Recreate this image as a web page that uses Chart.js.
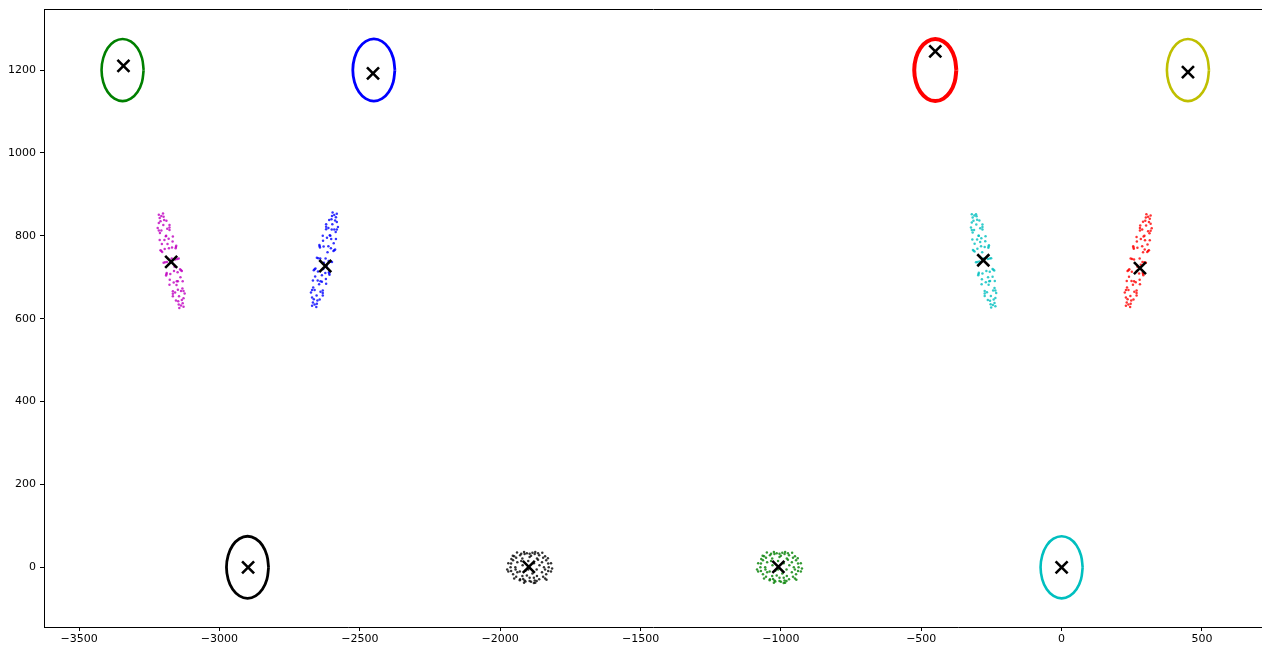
<!DOCTYPE html>
<html>
<head>
<meta charset="utf-8">
<script src="https://cdn.jsdelivr.net/npm/chart.js@4/dist/chart.umd.min.js"></script>
<style>
  html, body { margin: 0; padding: 0; background: #fff; overflow: hidden; }
  #wrap { width: 1262px; height: 648px; overflow: hidden; position: relative; }
  /* the plotting frame runs past the right edge of the view */
  #c { position: absolute; left: 0; top: -2px; }
</style>
</head>
<body>
<div id="wrap"><canvas id="c" width="1274" height="650"></canvas></div>
<script>
// Axis tick values
const xTicks = [-3500, -3000, -2500, -2000, -1500, -1000, -500, 0, 500];
const yTicks = [0, 200, 400, 600, 800, 1000, 1200];

// Ring-shaped clusters (outline points, closed)
const ringGreen = [[-3270,1200],[-3276,1229],[-3292,1253],[-3316,1269],[-3345,1275],[-3374,1269],[-3398,1253],[-3414,1229],[-3420,1200],[-3414,1171],[-3398,1147],[-3374,1131],[-3345,1125],[-3316,1131],[-3292,1147],[-3276,1171],[-3270,1200]];
const ringBlue = [[-2375,1200],[-2381,1229],[-2397,1253],[-2421,1269],[-2450,1275],[-2479,1269],[-2503,1253],[-2519,1229],[-2525,1200],[-2519,1171],[-2503,1147],[-2479,1131],[-2450,1125],[-2421,1131],[-2397,1147],[-2381,1171],[-2375,1200]];
const ringRed = [[-375,1200],[-381,1229],[-397,1253],[-421,1269],[-450,1275],[-479,1269],[-503,1253],[-519,1229],[-525,1200],[-519,1171],[-503,1147],[-479,1131],[-450,1125],[-421,1131],[-397,1147],[-381,1171],[-375,1200]];
const ringYellow = [[525,1200],[519,1229],[503,1253],[479,1269],[450,1275],[421,1269],[397,1253],[381,1229],[375,1200],[381,1171],[397,1147],[421,1131],[450,1125],[479,1131],[503,1147],[519,1171],[525,1200]];
const ringBlack = [[-2825,0],[-2831,29],[-2847,53],[-2871,69],[-2900,75],[-2929,69],[-2953,53],[-2969,29],[-2975,0],[-2969,-29],[-2953,-53],[-2929,-69],[-2900,-75],[-2871,-69],[-2847,-53],[-2831,-29],[-2825,0]];
const ringCyan = [[75,0],[69,29],[53,53],[29,69],[0,75],[-29,69],[-53,53],[-69,29],[-75,0],[-69,-29],[-53,-53],[-29,-69],[0,-75],[29,-69],[53,-53],[69,-29],[75,0]];

// Scattered clusters
const bandMagenta = [
  [-3207,848],[-3199,846],[-3189,836],[-3178,820],[-3166,798],[-3155,773],[-3145,745],[-3137,717],
  [-3131,690],[-3128,667],[-3128,649],[-3131,637],[-3137,632],[-3145,634],[-3155,644],[-3166,660],
  [-3178,682],[-3189,707],[-3199,735],[-3207,763],[-3213,790],[-3216,813],[-3216,831],[-3213,843],
  [-3200,826],[-3201,854],[-3186,817],[-3178,826],[-3167,786],[-3154,776],[-3150,744],[-3134,715],
  [-3139,700],[-3124,661],[-3137,667],[-3128,629],[-3144,654],[-3143,626],[-3158,663],[-3166,654],
  [-3177,694],[-3190,704],[-3194,736],[-3210,765],[-3205,780],[-3220,819],[-3207,813],[-3216,851],
  [-3190,800],[-3180,770],[-3170,745],[-3162,715],[-3152,690],[-3185,780],[-3160,725],[-3148,670],
  [-3191,799],[-3181,793],[-3169,772],[-3157,743],[-3149,712],[-3148,690],[-3153,681],[-3163,687],
  [-3175,708],[-3187,737],[-3195,768],[-3196,790],[-3197,838],[-3178,814],[-3156,770],[-3140,719],
  [-3132,673],[-3134,645],[-3147,642],[-3166,666],[-3188,710],[-3204,761],[-3212,807],[-3210,835]
];
const bandBlue = [
  [-2591,850],[-2585,845],[-2582,833],[-2582,815],[-2585,792],[-2591,765],[-2599,737],[-2609,709],
  [-2620,684],[-2632,662],[-2643,646],[-2653,636],[-2661,634],[-2667,639],[-2670,651],[-2670,669],
  [-2667,692],[-2661,719],[-2653,747],[-2643,775],[-2632,800],[-2620,822],[-2609,838],[-2599,848],
  [-2598,828],[-2582,853],[-2591,815],[-2578,821],[-2593,782],[-2588,767],[-2604,738],[-2608,706],
  [-2621,696],[-2632,656],[-2640,665],[-2655,628],[-2654,656],[-2670,631],[-2661,669],[-2674,663],
  [-2659,702],[-2664,717],[-2648,746],[-2644,778],[-2631,788],[-2620,828],[-2612,819],[-2597,856],
  [-2605,800],[-2612,775],[-2622,745],[-2630,720],[-2640,690],[-2615,760],[-2635,705],[-2600,815],
  [-2628,735],[-2618,728],
  [-2607,801],[-2602,792],[-2603,770],[-2611,739],[-2623,710],[-2635,689],[-2645,683],[-2650,692],
  [-2649,714],[-2641,745],[-2629,774],[-2617,795],[-2588,837],[-2586,809],[-2594,763],[-2610,712],
  [-2632,668],[-2651,644],[-2664,647],[-2666,675],[-2658,721],[-2642,772],[-2620,816],[-2601,840]
];
const bandCyan = [
  [-311,849],[-303,847],[-293,837],[-282,821],[-271,799],[-260,774],[-251,746],[-243,718],
  [-238,691],[-236,668],[-236,650],[-239,638],[-245,633],[-253,635],[-263,645],[-274,661],
  [-285,683],[-296,708],[-305,736],[-313,764],[-318,791],[-320,814],[-320,832],[-317,844],
  [-304,827],[-305,852],[-290,818],[-282,827],[-272,787],[-259,777],[-256,745],[-240,716],
  [-246,701],[-233,662],[-244,668],[-236,630],[-252,655],[-251,627],[-266,664],[-274,655],
  [-284,695],[-297,705],[-300,737],[-316,766],[-310,781],[-323,820],[-312,814],[-320,852],
  [-295,800],[-287,775],[-278,745],[-268,715],[-258,690],[-290,785],[-262,700],[-283,760],
  [-296,800],[-286,794],[-274,773],[-263,744],[-256,713],[-255,691],[-260,682],[-270,688],
  [-282,709],[-293,738],[-300,769],[-301,791],[-301,839],[-282,815],[-261,771],[-246,720],
  [-239,674],[-242,646],[-255,643],[-274,667],[-295,711],[-310,762],[-317,808],[-314,836]
];
const bandRed = [
  [308,846],[314,841],[317,829],[317,812],[314,789],[308,763],[300,735],[290,708],
  [279,683],[267,662],[256,646],[246,636],[238,634],[232,639],[229,651],[229,669],
  [232,691],[238,717],[246,745],[256,772],[267,797],[279,819],[290,834],[300,844],
  [301,825],[317,849],[308,811],[321,818],[306,779],[311,765],[295,736],[291,705],
  [278,694],[267,656],[259,665],[244,628],[245,655],[229,631],[238,669],[225,663],
  [240,701],[235,715],[251,744],[255,775],[268,786],[280,825],[287,815],[302,852],
  [295,800],[287,775],[278,745],[268,715],[258,690],[282,730],[270,725],[290,760],
  [292,798],[297,789],[296,767],[288,737],[276,709],[264,688],[254,682],[249,691],
  [250,713],[258,743],[270,771],[282,792],[311,833],[313,806],[305,761],[289,711],
  [267,668],[248,644],[235,647],[233,675],[241,719],[257,769],[279,813],[298,836]
];
const blobBlack = [
  [-1827,0],[-1829,9],[-1836,17],[-1847,23],[-1861,29],[-1877,32],[-1895,33],[-1913,32],
  [-1929,29],[-1943,23],[-1954,17],[-1961,9],[-1963,0],[-1961,-9],[-1954,-17],[-1943,-23],
  [-1929,-29],[-1913,-32],[-1895,-33],[-1877,-32],[-1861,-29],[-1847,-23],[-1836,-17],[-1829,-9],
  [-1844,0],[-1819,10],[-1851,12],[-1840,27],[-1869,21],[-1875,37],[-1895,25],[-1915,37],
  [-1921,21],[-1950,27],[-1939,12],[-1971,10],[-1946,0],[-1971,-10],[-1939,-12],[-1950,-27],
  [-1921,-21],[-1915,-37],[-1895,-25],[-1875,-37],[-1869,-21],[-1840,-27],[-1851,-12],[-1819,-10],
  [-1885,35],[-1905,34],[-1925,33],[-1865,34],[-1890,-35],[-1910,-34],[-1870,-33],[-1930,-31],
  [-1880,10],[-1910,-8],[-1900,15],[-1885,-15],[-1920,5],[-1870,-5],
  [-1960,20],[-1975,-5],[-1830,22],[-1815,-3],[-1860,5],[-1930,-10],[-1905,-20],[-1865,18],
  [-1945,-5],[-1840,-5],[-1925,15],[-1880,-25],[-1900,-5],[-1955,28],[-1835,-30],[-1890,28],
  [-1918,-28],[-1850,35],[-1940,36],[-1880,-38]
];
const blobGreen = [
  [-937,0],[-939,9],[-946,17],[-957,23],[-971,29],[-987,32],[-1005,33],[-1023,32],
  [-1039,29],[-1053,23],[-1064,17],[-1071,9],[-1073,0],[-1071,-9],[-1064,-17],[-1053,-23],
  [-1039,-29],[-1023,-32],[-1005,-33],[-987,-32],[-971,-29],[-957,-23],[-946,-17],[-939,-9],
  [-954,0],[-929,10],[-961,12],[-950,27],[-979,21],[-985,37],[-1005,25],[-1025,37],
  [-1031,21],[-1060,27],[-1049,12],[-1081,10],[-1056,0],[-1081,-10],[-1049,-12],[-1060,-27],
  [-1031,-21],[-1025,-37],[-1005,-25],[-985,-37],[-979,-21],[-950,-27],[-961,-12],[-929,-10],
  [-995,35],[-1015,34],[-1035,33],[-975,34],[-1000,-35],[-1020,-34],[-980,-33],[-1040,-31],
  [-990,10],[-1020,-8],[-1010,15],[-995,-15],[-1030,5],[-980,-5],
  [-1070,20],[-1085,-5],[-940,22],[-925,-3],[-970,5],[-1040,-10],[-1015,-20],[-975,18],
  [-1055,-5],[-950,-5],[-1035,15],[-990,-25],[-1010,-5],[-1065,28],[-945,-30],[-1000,28],
  [-1028,-28],[-960,35],[-1050,36],[-990,-38]
];

// Cluster centres
const centroids = [
  [-3342,1210],[-2453,1192],[-450,1245],[450,1195],
  [-3172,737],[-2623,727],[-279,741],[279,722],
  [-2898,0],[-1898,1],[-1009,1],[0,0]
];

const ring = (data, color, width) => ({
  data, showLine: true, tension: 0.4, borderColor: color, borderWidth: width,
  pointRadius: 0, fill: false, order: 2
});
const dots = (data, color) => ({
  data, showLine: false, pointRadius: 1.25, pointBorderWidth: 0,
  backgroundColor: color, pointBackgroundColor: color, order: 1
});

// Top border of the plotting frame
const topSpine = {
  id: 'topSpine',
  afterDraw(chart) {
    const { ctx, chartArea } = chart;
    ctx.save();
    ctx.strokeStyle = '#000';
    ctx.lineWidth = 1;
    ctx.beginPath();
    ctx.moveTo(chartArea.left, Math.round(chartArea.top) + 0.5);
    ctx.lineTo(chartArea.right, Math.round(chartArea.top) + 0.5);
    ctx.stroke();
    ctx.restore();
  }
};

const fmt = v => String(v).replace('-', '\u2212');
const tickFont = { family: 'DejaVu Sans', size: 11 };

new Chart(document.getElementById('c'), {
  type: 'scatter',
  data: {
    datasets: [
      { data: centroids, showLine: false, pointStyle: 'crossRot', pointRadius: 8.5,
        pointBorderWidth: 2.6, borderColor: '#000', pointBorderColor: '#000', order: 0 },
      ring(ringGreen, '#008000', 2.6),
      ring(ringBlue, '#0000ff', 2.8),
      ring(ringRed, '#ff0000', 4),
      ring(ringYellow, '#bfbf00', 2.6),
      ring(ringBlack, '#000000', 2.8),
      ring(ringCyan, '#00bfbf', 2.6),
      dots(bandMagenta, 'rgba(191,0,191,0.8)'),
      dots(bandBlue, 'rgba(0,0,255,0.8)'),
      dots(bandCyan, 'rgba(0,191,191,0.8)'),
      dots(bandRed, 'rgba(255,0,0,0.8)'),
      dots(blobBlack, 'rgba(0,0,0,0.8)'),
      dots(blobGreen, 'rgba(0,128,0,0.8)')
    ]
  },
  options: {
    responsive: false,
    animation: false,
    devicePixelRatio: 1,
    layout: { padding: { top: 9, right: 0, left: 0, bottom: 0 } },
    plugins: { legend: { display: false }, tooltip: { enabled: false } },
    scales: {
      x: {
        type: 'linear', min: -3625, max: 717,
        afterBuildTicks: s => { s.ticks = xTicks.map(v => ({ value: v })); },
        afterFit: s => { s.height = 21; },
        grid: { display: true, drawOnChartArea: false, drawTicks: true, tickLength: 4, tickColor: '#000', tickWidth: 1 },
        border: { display: true, color: '#000', width: 1 },
        ticks: { color: '#000', font: tickFont, padding: 2, maxRotation: 0, autoSkip: false, callback: v => fmt(v) }
      },
      y: {
        type: 'linear', min: -144, max: 1347,
        afterBuildTicks: s => { s.ticks = yTicks.map(v => ({ value: v })); },
        afterFit: s => { s.width = 44; },
        grid: { display: true, drawOnChartArea: false, drawTicks: true, tickLength: 4, tickColor: '#000', tickWidth: 1 },
        border: { display: true, color: '#000', width: 1 },
        ticks: { color: '#000', font: tickFont, padding: 4, autoSkip: false, callback: v => fmt(v) }
      }
    }
  },
  plugins: [topSpine]
});
</script>
</body>
</html>
